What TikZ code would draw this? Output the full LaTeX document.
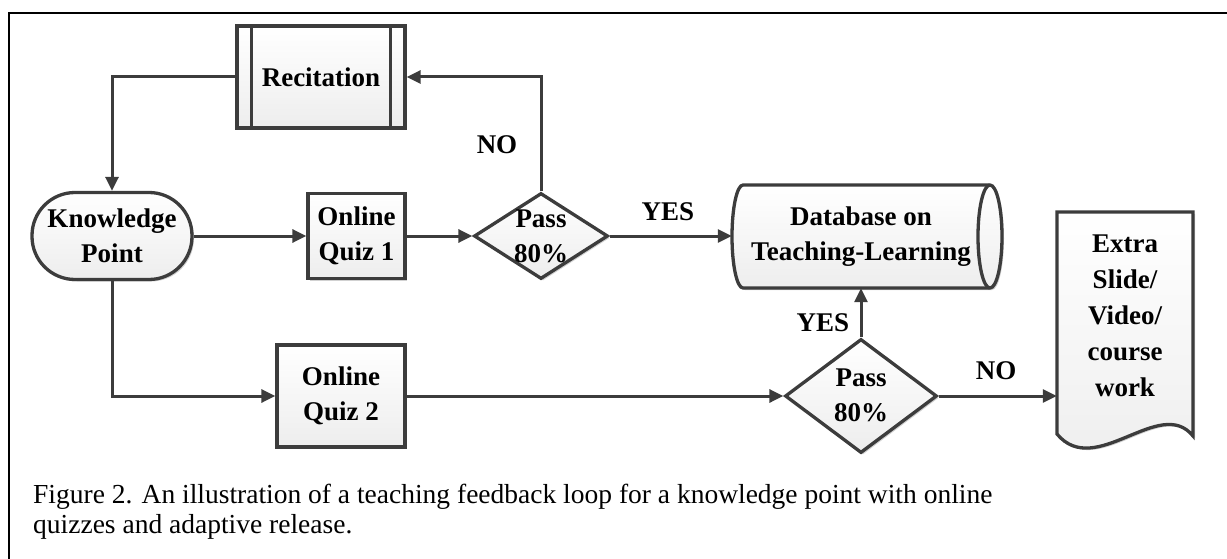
\documentclass[tikz,border=0pt]{standalone}
\usepackage{fontspec}
\setmainfont{Liberation Serif}
\usetikzlibrary{arrows.meta,shapes.geometric,shadows}
\definecolor{ln}{HTML}{3C3C3C}
\newcommand\nf{\fontsize{27}{35}\selectfont\bfseries}
\newcommand\capf{\fontsize{27.5}{30}\selectfont}
\begin{document}
\begin{tikzpicture}[x=1pt,y=-1pt,
  shapefill/.style={draw=ln, line width=3.3pt, top color=white, bottom color=gray!14,
    drop shadow={shadow xshift=2pt, shadow yshift=-2pt, opacity=0.18, fill=black}},
  box/.style={shapefill, inner sep=0pt, align=center, font=\nf},
  dia/.style={shapefill, diamond, inner sep=0pt},
  txt/.style={font=\nf, align=center, inner sep=0pt},
  arr/.style={draw=ln, line width=3pt, -{Triangle[length=14pt,width=13pt]}},
  lbl/.style={font=\nf, inner sep=0pt}]
\useasboundingbox (0,0) rectangle (1227,559);
% frame
\coordinate (fr1) at (1227,13);
\coordinate (fr2) at (9,13);
\coordinate (fr3) at (9,559);
\draw[line width=2.5pt, black] (fr1) -- (fr2) -- (fr3);

% Recitation
\node[box, minimum width=168pt, minimum height=102pt] (rec) at (321,77) {Recitation};
\draw[ln, line width=3.3pt] ([xshift=16pt]rec.north west) -- ([xshift=16pt]rec.south west);
\draw[ln, line width=3.3pt] ([xshift=-16pt]rec.north east) -- ([xshift=-16pt]rec.south east);

% Knowledge point
\node[box, rounded corners=43pt, minimum width=160pt, minimum height=87pt] (kp) at (112,236) {Knowledge\\Point};

% Quizzes
\node[box, minimum width=97pt, minimum height=85pt] (q1) at (356.5,236) {Online\\Quiz 1};
\node[box, minimum width=128pt, minimum height=102pt] (q2) at (341,396) {Online\\Quiz 2};

% Diamonds
\node[dia, minimum width=134pt, minimum height=86pt, aspect=1.56] (d1) at (541,236) {};
\node[txt] (d1t) at (541,236) {Pass\\80\%};
\node[dia, minimum width=152pt, minimum height=114pt, aspect=1.33] (d2) at (861,396) {};
\node[txt] (d2t) at (861,395) {Pass\\80\%};

% Database (horizontal cylinder)
\path[shapefill] (743,185) -- (990,185)
  arc[start angle=90, end angle=-90, x radius=12pt, y radius=51.5pt]
  -- (743,288)
  arc[start angle=270, end angle=90, x radius=11pt, y radius=51.5pt] -- cycle;
\draw[ln, line width=3.3pt] (990,185) arc[start angle=90, end angle=270, x radius=12pt, y radius=51.5pt];
\node[txt, minimum width=258pt, minimum height=103pt] (db) at (861,236.5) {Database on\\Teaching-Learning};

% Document shape
\path[shapefill] (1057,212) -- (1193,212) -- (1193,436)
  .. controls (1160,395) and (1095,480) .. (1057,434) -- cycle;
\node[txt, font=\fontsize{27}{36}\selectfont\bfseries, minimum width=136pt] (ex) at (1125,316) {Extra\\Slide/\\Video/\\course\\work};

% connectors
\draw[arr] (kp.east) -- (q1.west);
\draw[arr] (q1.east) -- (d1.west);
\draw[arr] (d1.north) |- (rec.east);
\draw[arr] (rec.west) -| (kp.north);
\draw[arr] (d1.east) -- (d1.east -| db.west);
\draw[arr] (kp.south) |- (q2.west);
\draw[arr] (q2.east) -- (d2.west);
\draw[arr] (d2.north) -- (db.south);
\draw[arr] (d2.east) -- (d2.east -| ex.west);

% labels
\node[lbl] (no1) at (497,145) {NO};
\node[lbl] (yes1) at (668,212) {YES};
\node[lbl] (yes2) at (823,323) {YES};
\node[lbl] (no2) at (996,371) {NO};

% caption
\node[anchor=base west, inner sep=0pt, font=\capf] (cap1) at (33,503) {Figure 2. An illustration of a teaching feedback loop for a knowledge point with online};
\node[anchor=base west, inner sep=0pt, font=\capf] (cap2) at (33,533) {quizzes and adaptive release.};
\end{tikzpicture}
\end{document}
